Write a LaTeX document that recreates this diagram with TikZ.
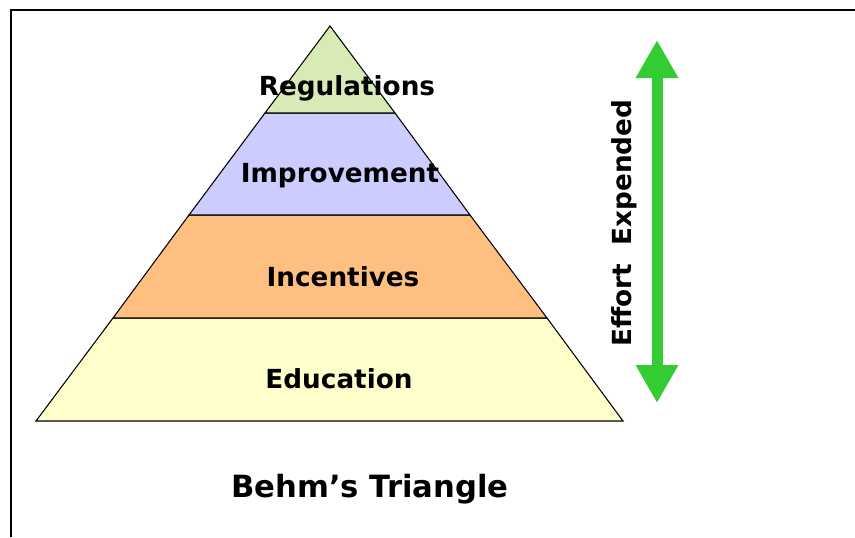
\documentclass[tikz,border=0pt]{standalone}
\usepackage{fontspec}
\setmainfont{DejaVu Sans}
\usetikzlibrary{arrows.meta}
\definecolor{regfill}{HTML}{D8EAB6}
\definecolor{impfill}{HTML}{CCCCFF}
\definecolor{incfill}{HTML}{FFBF80}
\definecolor{edufill}{HTML}{FFFFCC}
\definecolor{effgreen}{HTML}{33CC33}
\tikzset{
  layer/.style={draw=black, line width=0.8pt},
  lbl/.style={font=\fontsize{19.7}{22}\selectfont\bfseries, anchor=base, inner sep=0pt},
}

\begin{document}
\begin{tikzpicture}[x=0.75pt, y=-0.75pt]
        \useasboundingbox (0,0) rectangle (855,537);
        % frame
        \draw[line width=1.6pt] (11,537) -- (11,10) -- (855,10);
        % pyramid corners
        \coordinate (apex) at (330,26);
        \coordinate (bl) at (36,421);
        \coordinate (br) at (623,421);
        \coordinate (l1) at (265,113);  \coordinate (r1) at (395,113);
        \coordinate (l2) at (189,215);  \coordinate (r2) at (470,215);
        \coordinate (l3) at (113,318);  \coordinate (r3) at (547,318);
        % layers
        \draw[layer, fill=edufill] (l3) -- (r3) -- (br) -- (bl) -- cycle;
        \draw[layer, fill=incfill] (l2) -- (r2) -- (r3) -- (l3) -- cycle;
        \draw[layer, fill=impfill] (l1) -- (r1) -- (r2) -- (l2) -- cycle;
        \draw[layer, fill=regfill] (apex) -- (r1) -- (l1) -- cycle;
        % labels
        \node[lbl] (reg) at (347,95) {Regulations};
        \node[lbl] (imp) at (340,182) {Improvement};
        \node[lbl] (inc) at (343,286) {Incentives};
        \node[lbl] (edu) at (339,388) {Education};
        \node[lbl, font=\fontsize{23}{27}\selectfont\bfseries] (title) at (370,497) {Behm’s Triangle};
        % effort arrow
        \coordinate (efftop) at (657,40);
        \coordinate (effbot) at (657,403);
        \draw[effgreen, line width=8.25pt,
              {Triangle[width=30pt,length=28.5pt]}-{Triangle[width=30pt,length=28.5pt]}]
              (efftop) -- (effbot);
        \node[lbl, rotate=90] (effort) at (631,223) {Effort\ \ Expended};
\end{tikzpicture}
\end{document}
